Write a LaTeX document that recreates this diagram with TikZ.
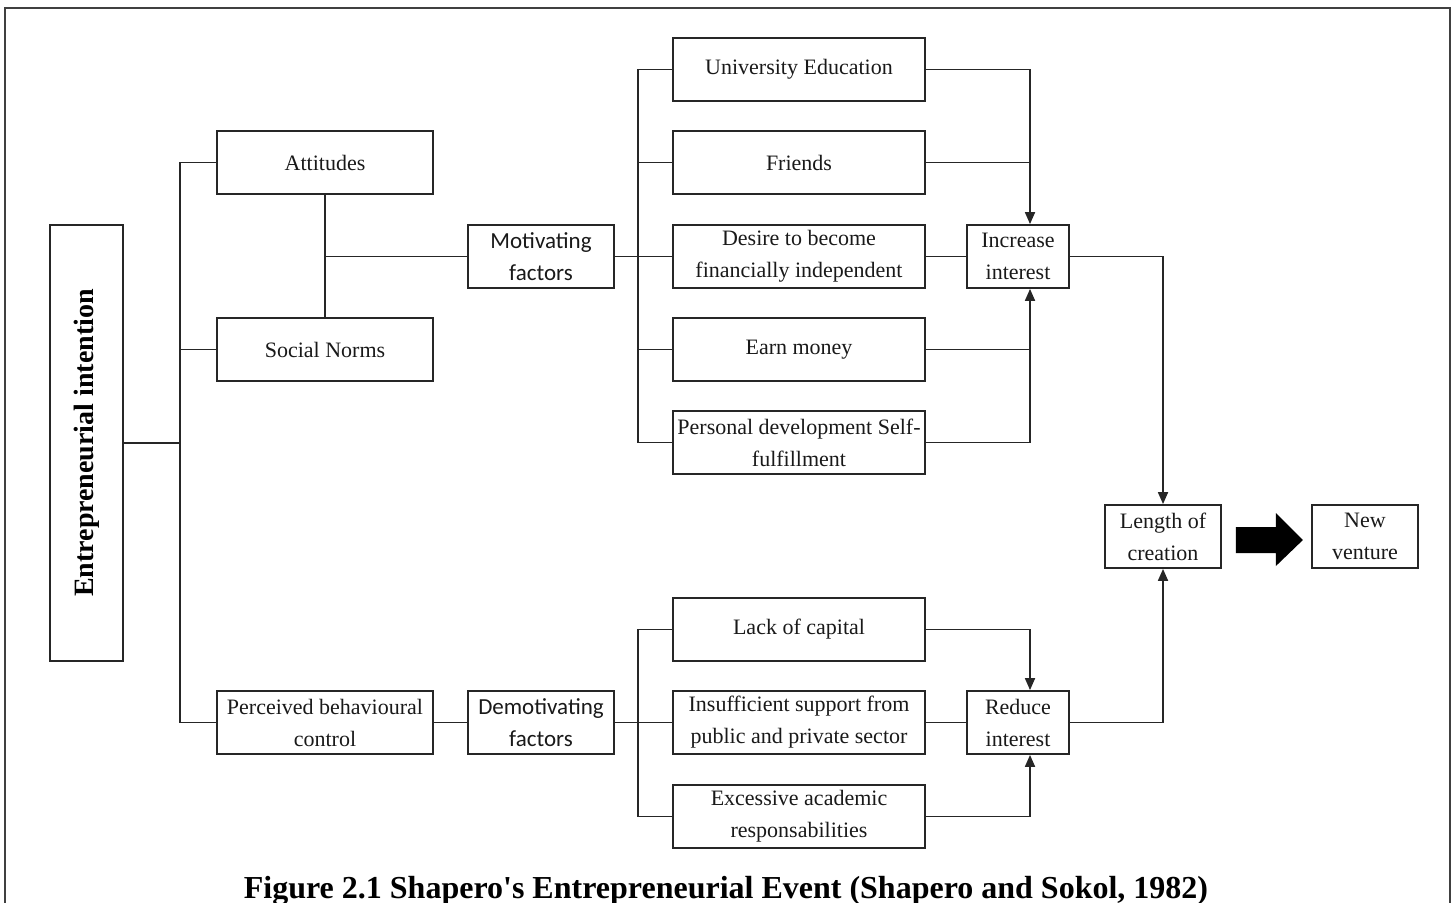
\documentclass[tikz,border=0pt]{standalone}
\usepackage{fontspec}
\setmainfont{Liberation Serif}
\newfontfamily\calib{Carlito}
\newfontfamily\capfont[Ligatures=TeXOff]{Liberation Serif}
\usetikzlibrary{arrows.meta}
\begin{document}
\begin{tikzpicture}[x=0.5pt,y=-0.5pt,
  box/.style={draw=black!85, line width=0.9pt, inner sep=0pt, align=center, text=black!90, font=\fontsize{11}{16}\selectfont},
  cbox/.style={box, font=\calib\fontsize{11.5}{16}\selectfont},
  wide/.style={minimum width=108pt, minimum height=31.5pt},
  mid/.style={minimum width=73pt, minimum height=31.5pt},
  right/.style={minimum width=126pt, minimum height=31.5pt},
  small/.style={minimum width=51pt, minimum height=31.5pt},
  ln/.style={draw=black!85, line width=0.9pt},
  arr/.style={ln, -{Triangle[width=5pt,length=6pt]}}]
\useasboundingbox (0,0) rectangle (1455,903);
\draw[line width=1pt, black!75] (5,903) -- (5,8) -- (1450,8) -- (1450,903);

% left column
\node[box, minimum width=36.5pt, minimum height=218pt] (ei) at (86.5,443) {};
\node[rotate=90, font=\bfseries\fontsize{14}{16}\selectfont] (eit) at (ei.center) {Entrepreneurial intention};

\node[box, wide] (att) at (325,162.5) {Attitudes};
\node[box, wide] (sn) at (325,349.5) {Social Norms};
\node[box, wide] (pbc) at (325,722.5) {Perceived behavioural\\control};

\node[cbox, mid] (mot) at (541,256.5) {Motivating\\factors};
\node[cbox, mid] (dem) at (541,722.5) {Demotivating\\factors};

\node[box, right] (ue) at (799,69.5) {University Education};
\node[box, right] (fr) at (799,162.5) {Friends};
\node[box, right] (des) at (799,256.5) {Desire to become\\financially independent};
\node[box, right] (ear) at (799,349.5) {Earn money};
\node[box, right] (pd) at (799,442.5) {Personal development Self-\\fulfillment};

\node[box, right] (lc) at (799,629.5) {Lack of capital};
\node[box, right] (ins) at (799,722.5) {Insufficient support from\\public and private sector};
\node[box, right] (exc) at (799,816.5) {Excessive academic\\responsabilities};

\node[box, small] (inc) at (1018,256.5) {Increase\\interest};
\node[box, small] (red) at (1018,722.5) {Reduce\\interest};

\node[box, minimum width=58pt, minimum height=31.5pt] (len) at (1163,536.5) {Length of\\creation};
\node[box, minimum width=53pt, minimum height=31.5pt] (nv) at (1365,536.5) {New\\venture};

% trunk from entrepreneurial intention
\draw[ln] (att.west) -- ++(-36,0) coordinate (tA) |- (pbc.west);
\draw[ln] (sn.west) -- (sn.west -| tA);
\draw[ln] (ei.east) -- (ei.east -| tA);
\draw[ln] (att.south) -- (sn.north);
\draw[ln] (att.south |- mot.west) -- (mot.west);
\draw[ln] (pbc.east) -- (dem.west);

% motivating bus
\draw[ln] (ue.west) -- ++(-34,0) coordinate (tB) |- (pd.west);
\draw[ln] (fr.west) -- (fr.west -| tB);
\draw[ln] (ear.west) -- (ear.west -| tB);
\draw[ln] (mot.east) -- (des.west);

% demotivating bus
\draw[ln] (lc.west) -- ++(-34,0) coordinate (tC) |- (exc.west);
\draw[ln] (dem.east) -- (ins.west);

% to increase interest
\coordinate (ia) at ([xshift=6pt]inc.north);
\coordinate (ib) at ([xshift=6pt]inc.south);
\draw[arr] (ue.east) -| (ia);
\draw[ln] (fr.east) -- (fr.east -| ia);
\draw[ln] (des.east) -- (inc.west);
\draw[arr] (pd.east) -| (ib);
\draw[ln] (ear.east) -- (ear.east -| ib);

% to reduce interest
\coordinate (ra) at ([xshift=6pt]red.north);
\coordinate (rb) at ([xshift=6pt]red.south);
\draw[arr] (lc.east) -| (ra);
\draw[ln] (ins.east) -- (red.west);
\draw[arr] (exc.east) -| (rb);

% to length of creation
\draw[arr] (inc.east) -| (len.north);
\draw[arr] (red.east) -| (len.south);

% big arrow
\fill[black] ([shift={(14,-9.5)}]len.east) -- ++(40,0) -- ++(0,-14) -- ++(27,27) -- ++(-27,26) -- ++(0,-13) -- ++(-40,0) -- cycle;

\node[font=\capfont\bfseries\fontsize{16}{18}\selectfont] (cap) at (726,891) {Figure 2.1 Shapero's Entrepreneurial Event (Shapero and Sokol, 1982)};
\end{tikzpicture}
\end{document}
